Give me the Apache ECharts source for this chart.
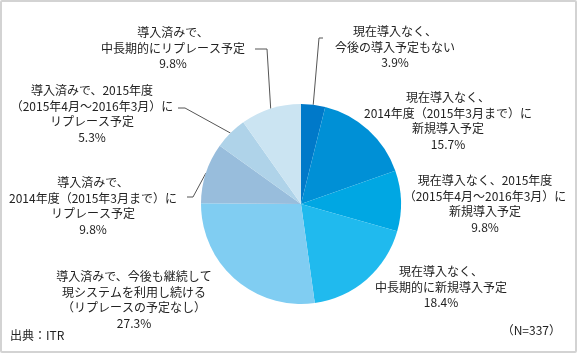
<!DOCTYPE html>
<html>
<head>
<meta charset="utf-8">
<script src="https://cdn.jsdelivr.net/npm/echarts@6/dist/echarts.min.js"></script>
<style>
html,body{margin:0;padding:0;background:#fff;}
#frame{position:absolute;left:0;top:0;width:577px;height:353px;box-sizing:border-box;border:2px solid #d3d3d3;border-radius:2px;}
#c{position:absolute;left:0;top:0;width:577px;height:353px;}
</style>
</head>
<body>
<div id="frame"></div>
<div id="c"></div>
<script>
// data
var categories = [
  '現在導入なく、\n今後の導入予定もない',
  '現在導入なく、\n2014年度（2015年3月まで）に\n新規導入予定',
  '現在導入なく、2015年度\n（2015年4月～2016年3月）に\n新規導入予定',
  '現在導入なく、\n中長期的に新規導入予定',
  '導入済みで、今後も継続して\n現システムを利用し続ける\n（リプレースの予定なし）',
  '導入済みで、\n2014年度（2015年3月まで）に\nリプレース予定',
  '導入済みで、2015年度\n（2015年4月～2016年3月）に\nリプレース予定',
  '導入済みで、\n中長期的にリプレース予定'
];
var values = [3.9, 15.7, 9.8, 18.4, 27.3, 9.8, 5.3, 9.8];
var colors = ['#0079c9', '#0090d6', '#00a7e3', '#20baee', '#80cdf2', '#98bddc', '#afd3e9', '#cbe4f2'];

// label layout (styles)
var labelPos = [
  {x: 395, y: 47},
  {x: 448, y: 121},
  {x: 485, y: 204},
  {x: 441, y: 287},
  {x: 134, y: 300},
  {x: 93, y: 206},
  {x: 92, y: 114},
  {x: 173, y: 48}
];
// leader line bends (relative guides), null = no leader line
var leaders = [
  [[319, 38], [323, 38]],
  null, null, null, null,
  [[193, 197], [187, 197]],
  [[185, 108], [178, 108]],
  [[267, 49], [255, 49]]
];

var chart = echarts.init(document.getElementById('c'), null, {renderer: 'canvas'});
var data = values.map(function (v, i) {
  return {value: v, name: categories[i], itemStyle: {color: colors[i]}};
});
var cx = 301, cy = 204, R = 100;
var total = values.reduce(function (a, b) { return a + b; }, 0);
function edgePoint(i) {
  var cum = 0;
  for (var k = 0; k < i; k++) cum += values[k];
  var mid = (cum + values[i] / 2) / total * Math.PI * 2;
  return [cx + R * Math.sin(mid), cy - R * Math.cos(mid)];
}

chart.setOption({
  animation: false,
  textStyle: {fontFamily: '"Noto Sans CJK JP", "Noto Sans", sans-serif'},
  graphic: [
    {type: 'text', left: 10, top: 329, style: {text: '出典：ITR', fontSize: 12, fill: '#222', fontFamily: '"Noto Sans CJK JP", sans-serif'}},
    {type: 'text', right: 16, top: 324, style: {text: '（N=337）', fontSize: 12, fill: '#222', fontFamily: '"Noto Sans CJK JP", sans-serif'}}
  ],
  series: [{
    type: 'pie',
    center: [cx, cy],
    radius: [0, R],
    startAngle: 90,
    clockwise: true,
    silent: true,
    emphasis: {disabled: true},
    itemStyle: {borderWidth: 0},
    avoidLabelOverlap: false,
    data: data,
    label: {
      show: true,
      position: 'outside',
      overflow: 'none',
      width: 300,
      formatter: function (p) { return p.name + '\n' + p.value.toFixed(1) + '%'; },
      fontSize: 12,
      lineHeight: 15.5,
      color: '#222',
      align: 'center',
      fontFamily: '"Noto Sans CJK JP", sans-serif'
    },
    labelLine: {
      show: true,
      lineStyle: {color: '#555', width: 1}
    },
    labelLayout: function (params) {
      var i = params.dataIndex;
      var res = {x: labelPos[i].x, y: labelPos[i].y, align: 'center', verticalAlign: 'middle'};
      if (leaders[i]) {
        res.labelLinePoints = [edgePoint(i), leaders[i][0], leaders[i][1]];
      } else {
        var e = edgePoint(i);
        res.labelLinePoints = [e, e, e];
      }
      return res;
    }
  }]
});
</script>
</body>
</html>
